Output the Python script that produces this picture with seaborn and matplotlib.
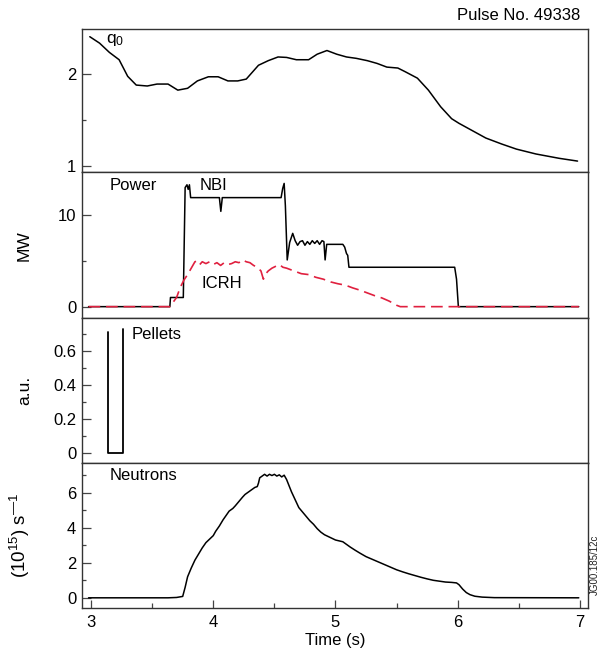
import matplotlib
matplotlib.use("Agg")
import matplotlib.pyplot as plt
import seaborn as sns
import numpy as np
from matplotlib.ticker import MultipleLocator, FixedLocator

sns.set_theme(style="white")
plt.rcParams['font.family'] = ['Liberation Sans', 'DejaVu Sans']
plt.rcParams['mathtext.fontset'] = 'custom'
plt.rcParams['mathtext.rm'] = 'Liberation Sans'
plt.rcParams['mathtext.it'] = 'Liberation Sans'
for k in ['text.color', 'axes.labelcolor', 'xtick.color', 'ytick.color']:
    plt.rcParams[k] = 'black'

# ---- data ----
q0_t = [2.99, 3.07, 3.15, 3.23, 3.30, 3.37, 3.46, 3.54, 3.63, 3.71, 3.79, 3.87, 3.96, 4.04,
        4.12, 4.20, 4.27, 4.37, 4.45, 4.53, 4.60, 4.68, 4.78, 4.85, 4.93, 5.01, 5.09, 5.17,
        5.26, 5.34, 5.42, 5.51, 5.57, 5.67, 5.76, 5.86, 5.95, 6.01, 6.12, 6.23, 6.36, 6.48,
        6.64, 6.83, 6.98]
q0_v = [2.40, 2.33, 2.23, 2.15, 1.97, 1.875, 1.865, 1.886, 1.886, 1.82, 1.84, 1.92, 1.965, 1.965,
        1.92, 1.92, 1.94, 2.09, 2.14, 2.18, 2.175, 2.15, 2.15, 2.21, 2.25, 2.21, 2.18, 2.165,
        2.14, 2.11, 2.07, 2.06, 2.02, 1.95, 1.82, 1.64, 1.51, 1.46, 1.38, 1.30, 1.235, 1.18,
        1.127, 1.08, 1.05]

nbi_t = [2.98, 3.645, 3.65, 3.755, 3.77, 3.785, 3.795, 3.805, 3.815, 4.05, 4.062, 4.074,
         4.555, 4.568, 4.58, 4.59, 4.605, 4.625, 4.65, 4.67, 4.69, 4.71, 4.73, 4.75, 4.77,
         4.79, 4.81, 4.83, 4.85, 4.87, 4.89, 4.905, 4.915, 4.928, 5.06, 5.075, 5.09, 5.10,
         5.11, 5.975, 5.99, 6.005, 6.99]
nbi_p = [0, 0, 1.0, 1.0, 13.0, 13.3, 12.8, 13.3, 11.9, 11.9, 10.4, 11.9,
         11.9, 12.9, 13.45, 11.0, 5.1, 7.0, 8.0, 7.2, 6.7, 7.1, 7.2, 6.7, 7.1,
         6.8, 7.2, 6.9, 7.2, 6.8, 7.2, 7.1, 5.1, 6.8, 6.8, 6.5, 5.8, 5.6,
         4.3, 4.3, 3.0, 0, 0]

icrh_t = [2.98, 3.645, 3.70, 3.73, 3.76, 3.79, 3.82, 3.85, 3.87, 3.89, 3.91, 3.94, 3.97, 4.00,
          4.03, 4.06, 4.09, 4.12, 4.15, 4.18, 4.21, 4.24, 4.27, 4.30, 4.33, 4.36, 4.39, 4.41,
          4.43, 4.45, 4.48, 4.51, 4.54, 4.57, 4.60, 4.64, 4.68, 4.72, 4.78, 4.84, 4.90, 4.96,
          5.02, 5.08, 5.14, 5.20, 5.26, 5.32, 5.38, 5.44, 5.50, 5.53, 6.99]
icrh_p = [0, 0, 1.0, 2.1, 2.9, 3.5, 4.2, 4.9, 5.0, 4.6, 4.9, 4.7, 4.9, 4.6,
          4.8, 4.5, 4.8, 4.6, 4.7, 4.9, 4.8, 5.1, 4.9, 4.8, 4.5, 4.3, 3.9, 3.0,
          3.6, 3.9, 4.2, 4.4, 4.6, 4.3, 4.2, 4.0, 3.8, 3.6, 3.5, 3.2, 3.0, 2.7,
          2.5, 2.35, 2.05, 1.8, 1.5, 1.2, 0.95, 0.6, 0.15, 0.0, 0]

pel_t = [3.14, 3.14, 3.263, 3.263]
pel_v = [0.714, 0.0, 0.0, 0.732]

neu_t = [2.98, 3.63, 3.70, 3.75, 3.77, 3.79, 3.82, 3.85, 3.88, 3.91, 3.94, 3.97, 4.00, 4.02,
         4.05, 4.08, 4.10, 4.13, 4.16, 4.18, 4.21, 4.24, 4.26, 4.29, 4.32, 4.34, 4.36, 4.37,
         4.38, 4.40, 4.42, 4.44, 4.46, 4.48, 4.50, 4.52, 4.54, 4.56, 4.58, 4.60, 4.62, 4.64,
         4.67, 4.70, 4.73, 4.76, 4.79, 4.82, 4.85, 4.88, 4.91, 4.94, 4.97, 5.00, 5.03, 5.06,
         5.09, 5.12, 5.16, 5.20, 5.25, 5.30, 5.35, 5.40, 5.45, 5.50, 5.55, 5.60, 5.65, 5.70,
         5.75, 5.80, 5.85, 5.90, 5.95, 5.99, 6.01, 6.04, 6.07, 6.10, 6.14, 6.20, 6.30, 6.99]
neu_v = [0, 0, 0.02, 0.08, 0.6, 1.2, 1.7, 2.15, 2.5, 2.85, 3.15, 3.35, 3.55, 3.8,
         4.1, 4.45, 4.65, 4.95, 5.1, 5.25, 5.5, 5.75, 5.9, 6.05, 6.2, 6.3, 6.35, 6.55,
         6.85, 6.95, 7.05, 6.95, 7.05, 6.98, 7.05, 6.95, 7.02, 6.9, 7.0, 6.75, 6.4, 6.05,
         5.6, 5.15, 4.9, 4.65, 4.4, 4.2, 3.95, 3.75, 3.6, 3.5, 3.4, 3.3, 3.25, 3.2,
         3.05, 2.9, 2.72, 2.55, 2.35, 2.2, 2.05, 1.9, 1.75, 1.6, 1.48, 1.37, 1.27, 1.17,
         1.08, 1.0, 0.95, 0.9, 0.88, 0.85, 0.75, 0.5, 0.3, 0.18, 0.09, 0.04, 0.01, 0]

x_ticks = [3, 4, 5, 6, 7]
red = "#e0203f"

# ---- figure ----
fig = plt.figure(figsize=(6.0, 6.59), dpi=100)
L, W = 0.1362, 0.8443
ax1 = fig.add_axes([L, 0.7385, W, 0.217])
ax2 = fig.add_axes([L, 0.517, W, 0.2215])
ax3 = fig.add_axes([L, 0.297, W, 0.220])
ax4 = fig.add_axes([L, 0.0769, W, 0.2201])
axes = [ax1, ax2, ax3, ax4]

lw = 1.1
sns.lineplot(x=q0_t, y=q0_v, ax=ax1, color="black", lw=lw, estimator=None, sort=False)
sns.lineplot(x=nbi_t, y=nbi_p, ax=ax2, color="black", lw=lw, estimator=None, sort=False)
sns.lineplot(x=icrh_t, y=icrh_p, ax=ax2, color=red, lw=1.2, estimator=None, sort=False,
             dashes=False, linestyle=(0, (7, 3.5)))
sns.lineplot(x=pel_t, y=pel_v, ax=ax3, color="black", lw=1.3, estimator=None, sort=False)
sns.lineplot(x=neu_t, y=neu_v, ax=ax4, color="black", lw=lw, estimator=None, sort=False)

ylims = [(0.928, 2.48), (-1.27, 14.66), (-0.061, 0.793), (-0.6, 7.68)]
majors = [[1, 2], [0, 10], [0, 0.2, 0.4, 0.6], [0, 2, 4, 6]]
minors = [[1.5], [5], [0.1, 0.3, 0.5, 0.7], [1, 3, 5, 7]]
labels = [["1", "2"], ["0", "10"], ["0", "0.2", "0.4", "0.6"], ["0", "2", "4", "6"]]

for ax, yl, mj, mn, lb in zip(axes, ylims, majors, minors, labels):
    ax.set_xlim(2.924, 7.068)
    ax.set_ylim(*yl)
    ax.yaxis.set_major_locator(FixedLocator(mj))
    ax.yaxis.set_minor_locator(FixedLocator(mn))
    ax.set_yticklabels(lb)
    ax.tick_params(axis="y", which="major", direction="in", length=6.5, width=0.9,
                   left=True, labelsize=12, pad=4, color="#444444", labelcolor="black")
    ax.tick_params(axis="y", which="minor", direction="in", length=3, width=0.9,
                   left=True, color="#444444")
    for s in ax.spines.values():
        s.set_color("#333333")
        s.set_linewidth(1.0)
    ax.set_xlabel("")
    ax.set_ylabel("")
    if ax is not ax4:
        ax.tick_params(axis="x", which="both", bottom=False, labelbottom=False)

ax4.xaxis.set_major_locator(FixedLocator(x_ticks))
ax4.xaxis.set_minor_locator(MultipleLocator(0.5))
ax4.set_xticklabels([str(v) for v in x_ticks])
ax4.tick_params(axis="x", which="major", direction="in", length=6, width=0.9,
                bottom=True, labelsize=12, pad=5, color="#444444", labelcolor="black")
ax4.tick_params(axis="x", which="minor", direction="in", length=3.5, width=0.9,
                bottom=True, color="#444444")
ax4.set_xlabel("Time (s)", fontsize=12, labelpad=2, color="black")

ax2.set_ylabel("MW", fontsize=12.5, color="black")
ax3.set_ylabel("a.u.", fontsize=12.5, color="black")
ax4.set_ylabel("(10$^{15}$) s$^{\u2014 1}$", fontsize=13.5, color="black")
for ax in [ax2, ax3, ax4]:
    ax.yaxis.set_label_coords(-0.098, 0.5)

ax1.text(3.125, 2.36, r"q$_0$", fontsize=12.5, va="center", ha="left", color="black")
ax2.text(3.15, 13.27, "Power", fontsize=12, va="center", ha="left", color="black")
ax2.text(3.89, 13.27, "NBI", fontsize=12, va="center", ha="left", color="black")
ax2.text(3.905, 2.55, "ICRH", fontsize=12, va="center", ha="left", color="black")
ax3.text(3.33, 0.70, "Pellets", fontsize=12, va="center", ha="left", color="black")
ax4.text(3.15, 7.0, "Neutrons", fontsize=12, va="center", ha="left", color="black")

fig.text(580 / 600, 1 - 15 / 659, "Pulse No. 49338", fontsize=12, ha="right", va="center",
         color="black")
fig.text(595 / 600, 1 - 565 / 659, "JG00.185/12c", fontsize=7, rotation=90,
         ha="center", va="center", color="#222222")

fig.savefig("out.png", dpi=100)
